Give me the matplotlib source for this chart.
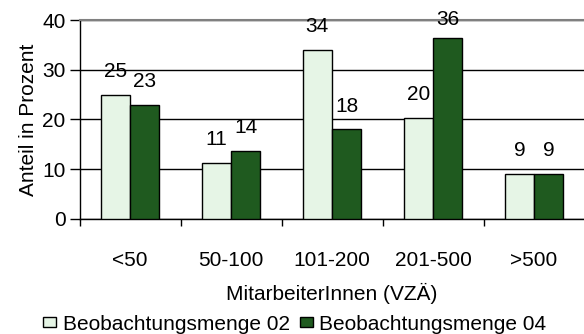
import matplotlib.pyplot as plt
import numpy as np

plt.rcParams['font.family'] = ['Liberation Sans', 'DejaVu Sans']

# Betriebsgroessen und Anteile je Beobachtungsmenge
kategorien = ['<50', '50-100', '101-200', '201-500', '>500']
menge_02 = [24.9, 11.3, 34.0, 20.4, 9.0]
menge_04 = [22.9, 13.6, 18.0, 36.4, 9.0]
serien = ['Beobachtungsmenge 02', 'Beobachtungsmenge 04']

hell = '#e6f5e6'
dunkel = '#1f5a1f'
fs = 15

fig = plt.figure(figsize=(5.84, 3.34), dpi=100)
ax = fig.add_axes([79.5 / 584, 1 - 219 / 334, 505 / 584, 199 / 334])

x = np.arange(len(kategorien))
w = 0.29
b1 = ax.bar(x - w / 2, menge_02, w, color=hell, edgecolor='black', linewidth=1, label=serien[0], zorder=3)
b2 = ax.bar(x + w / 2, menge_04, w, color=dunkel, edgecolor='black', linewidth=1, label=serien[1], zorder=3)

# Werte ueber den Balken
for pos, vals in ((x - w / 2, menge_02), (x + w / 2, menge_04)):
    for xi, v in zip(pos, vals):
        ax.text(xi, min(v + 2.8, 38.2), f'{v:.0f}', ha='center', va='bottom', fontsize=fs)

ax.set_ylim(0, 40)
ax.set_xlim(-0.5, 4.5)
ax.set_yticks([0, 10, 20, 30, 40])
ax.yaxis.grid(True, color='black', linewidth=1, zorder=0)
ax.set_axisbelow(True)

# Kategorien zwischen den Trennstrichen
ax.set_xticks(np.arange(-0.5, 5, 1))
ax.set_xticklabels([])
ax.set_xticks(x, minor=True)
ax.set_xticklabels(kategorien, minor=True, fontsize=fs)
ax.tick_params(axis='x', which='minor', length=0, pad=23)
ax.tick_params(axis='x', which='major', length=5, width=1, direction='out')
ax.tick_params(axis='y', length=7, width=1, labelsize=fs, pad=3)

ax.spines['right'].set_visible(False)
ax.spines['top'].set_color('#808080')
ax.spines['top'].set_linewidth(1.5)
ax.spines['left'].set_linewidth(1)
ax.spines['bottom'].set_linewidth(1)

ax.set_ylabel('Anteil in Prozent', fontsize=fs, labelpad=3)
ax.set_xlabel('MitarbeiterInnen (VZÄ)', fontsize=fs, labelpad=9)

fig.legend(handles=[b1, b2], loc='center', bbox_to_anchor=(0.505, 1 - 324 / 334), ncol=2,
           frameon=False, fontsize=fs, handlelength=0.62, handleheight=0.4,
           handletextpad=0.3, columnspacing=0.5, borderaxespad=0)

fig.savefig('out.png', dpi=100)
